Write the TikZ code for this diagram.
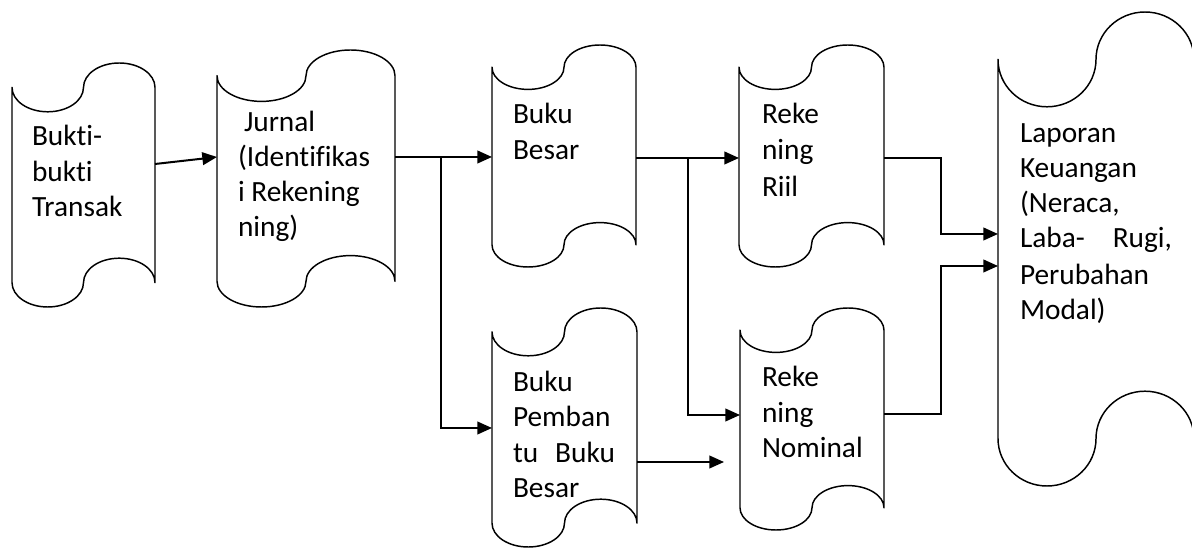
\documentclass[tikz,border=0pt]{standalone}
\usepackage{fontspec}
\setmainfont{Carlito}[Ligatures={NoCommon}]
\usetikzlibrary{arrows.meta}
\newcommand{\tapeshape}[5]{% name, x0, y0, w, h (px, y down)
 \pgfmathsetmacro\tpxa{#2}
 \pgfmathsetmacro\tpxb{#2+0.11192*#4}
 \pgfmathsetmacro\tpxc{#2+0.25*#4}
 \pgfmathsetmacro\tpxd{#2+0.38808*#4}
 \pgfmathsetmacro\tpxe{#2+0.5*#4}
 \pgfmathsetmacro\tpxf{#2+0.61192*#4}
 \pgfmathsetmacro\tpxg{#2+0.75*#4}
 \pgfmathsetmacro\tpxh{#2+0.88808*#4}
 \pgfmathsetmacro\tpxi{#2+#4}
 \pgfmathsetmacro\tpya{-(#3)}
 \pgfmathsetmacro\tpyb{-(#3+0.04477*#5)}
 \pgfmathsetmacro\tpyc{-(#3+0.1*#5)}
 \pgfmathsetmacro\tpyd{-(#3+0.15523*#5)}
 \pgfmathsetmacro\tpye{-(#3+0.2*#5)}
 \pgfmathsetmacro\tpyf{-(#3+0.8*#5)}
 \pgfmathsetmacro\tpyg{-(#3+0.84477*#5)}
 \pgfmathsetmacro\tpyh{-(#3+0.9*#5)}
 \pgfmathsetmacro\tpyi{-(#3+0.95523*#5)}
 \pgfmathsetmacro\tpyj{-(#3+#5)}
 \pgfmathsetmacro\tpcx{#2+0.5*#4}
 \pgfmathsetmacro\tpcy{-(#3+0.5*#5)}
 \node[tapebox, minimum width={#4*0.75pt}, minimum height={#5*0.75pt}] (#1) at (\tpcx,\tpcy) {};
 \draw[tapeline] (\tpxa,\tpyc) .. controls (\tpxa,\tpyd) and (\tpxb,\tpye) .. (\tpxc,\tpye)
  .. controls (\tpxd,\tpye) and (\tpxe,\tpyd) .. (\tpxe,\tpyc)
  .. controls (\tpxe,\tpyb) and (\tpxf,\tpya) .. (\tpxg,\tpya)
  .. controls (\tpxh,\tpya) and (\tpxi,\tpyb) .. (\tpxi,\tpyc)
  -- (\tpxi,\tpyh)
  .. controls (\tpxi,\tpyg) and (\tpxh,\tpyf) .. (\tpxg,\tpyf)
  .. controls (\tpxf,\tpyf) and (\tpxe,\tpyg) .. (\tpxe,\tpyh)
  .. controls (\tpxe,\tpyi) and (\tpxd,\tpyj) .. (\tpxc,\tpyj)
  .. controls (\tpxb,\tpyj) and (\tpxa,\tpyi) .. (\tpxa,\tpyh)
  -- cycle;
}
\begin{document}
\begin{tikzpicture}[x=0.75pt,y=0.75pt,
  tapebox/.style={draw=none, inner sep=0pt, outer sep=0pt, rectangle},
  tapeline/.style={draw=black, line width=1.1pt, line join=round},
  conn/.style={draw=black, line width=1.5pt, -{Triangle[length=11pt,width=9.5pt]}},
  txt/.style={anchor=base west, inner sep=0pt, outer sep=0pt, font=\fontsize{22pt}{26.6pt}\selectfont}]
\useasboundingbox (0,0) rectangle (1192,-548);
\fill[white] (0,0) rectangle (1192,-548);

% shapes
\tapeshape{bukti}{12}{63}{143}{244}
\tapeshape{jurnal}{217}{50}{178}{257}
\tapeshape{besar}{492}{45}{144}{222}
\tapeshape{pemb}{492}{308}{145}{239}
\tapeshape{riil}{739}{45}{145}{222}
\tapeshape{nominal}{740}{308}{144}{222}
\tapeshape{laporan}{998}{12}{196}{474}

% level coordinates
\coordinate (y1) at (0,-164);
\coordinate (y2) at (0,-157);
\coordinate (y3) at (0,-158);
\coordinate (jb) at (441,-428);
\coordinate (bb) at (688,-415);
\coordinate (pe) at (724,-462);
\coordinate (y6) at (0,-462);
\coordinate (rk) at (941,-234);
\coordinate (nk) at (941,-266);
\coordinate (y8) at (0,-414);

% connectors
\draw[conn] (bukti.east |- y1) -- (jurnal.west |- y2);
\draw[conn] (jurnal.east |- y2) -- (besar.west |- y2);
\draw[conn] (jb |- y2) -- (jb) -- (pemb.west |- jb);
\draw[conn] (besar.east |- y3) -- (riil.west |- y3);
\draw[conn] (bb |- y3) -- (bb) -- (nominal.west |- bb);
\draw[conn] (pemb.east |- y6) -- (pe);
\draw[conn] (riil.east |- y3) -| (rk) -- (laporan.west |- rk);
\draw[conn] (nominal.east |- y8) -| (nk) -- (laporan.west |- nk);

% texts
\node[txt] (t1a) at (32,-146) {Bukti-};
\node[txt] (t1b) at (32,-182) {bukti};
\node[txt] (t1c) at (32,-217) {Transak};

\node[txt] (t2a) at (244,-132) {Jurnal};
\node[txt] (t2b) at (238,-167) {(Identifikas};
\node[txt] (t2c) at (238,-202) {i Rekening};
\node[txt] (t2d) at (238,-237) {ning)};

\node[txt] (t3a) at (513,-124) {Buku};
\node[txt] (t3b) at (513,-160) {Besar};

\node[txt] (t4a) at (762,-124) {Reke};
\node[txt] (t4b) at (762,-160) {ning};
\node[txt] (t4c) at (762,-197) {Riil};

\node[txt] (t5a) at (513,-392) {Buku};
\node[txt] (t5b) at (513,-427) {Pemban};
\node[txt] (t5c) at (513,-463) {\makebox[76.5pt][s]{tu\hfill Buku}};
\node[txt] (t5d) at (513,-498) {Besar};

\node[txt] (t6a) at (762,-387) {Reke};
\node[txt] (t6b) at (762,-423) {ning};
\node[txt] (t6c) at (762,-458) {Nominal};

\node[txt] (t7a) at (1020,-143) {Laporan};
\node[txt] (t7b) at (1020,-178) {Keuangan};
\node[txt] (t7c) at (1020,-213) {(Neraca,};
\node[txt] (t7d) at (1020,-248) {\makebox[114pt][s]{Laba-\hfill Rugi,}};
\node[txt] (t7e) at (1020,-285) {Perubahan};
\node[txt] (t7f) at (1020,-320) {Modal)};
\end{tikzpicture}
\end{document}
